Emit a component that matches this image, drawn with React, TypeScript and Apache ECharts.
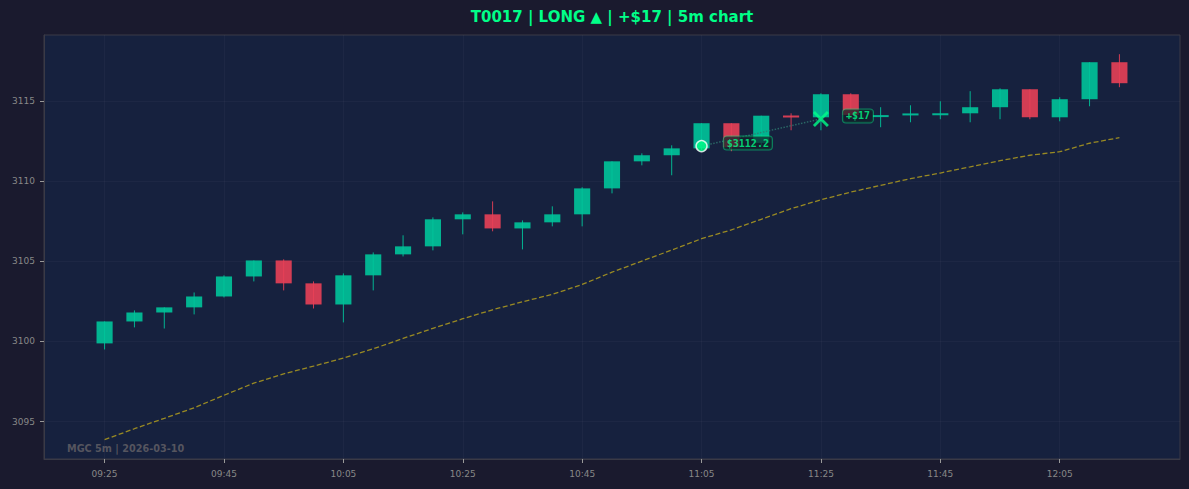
import React, { useEffect, useRef } from "react";
import * as echarts from "echarts";

const times = [
  "09:25", "09:30", "09:35", "09:40", "09:45", "09:50", "09:55", "10:00", "10:05", "10:10",
  "10:15", "10:20", "10:25", "10:30", "10:35", "10:40", "10:45", "10:50", "10:55", "11:00",
  "11:05", "11:10", "11:15", "11:20", "11:25", "11:30", "11:35", "11:40", "11:45", "11:50",
  "11:55", "12:00", "12:05", "12:10", "12:15",
];
const opens = [
  3099.88, 3101.25, 3101.81, 3102.13, 3102.81, 3104.06, 3105.06, 3103.63, 3102.31, 3104.13,
  3105.44, 3105.94, 3107.63, 3107.94, 3107.06, 3107.44, 3107.94, 3109.56, 3111.25, 3111.63,
  3112.06, 3113.63, 3112.4, 3114.1, 3114.0, 3115.44, 3114.05, 3114.17, 3114.13, 3114.25,
  3114.63, 3115.75, 3114.0, 3115.13, 3117.44,
];
const closes = [
  3101.25, 3101.81, 3102.13, 3102.81, 3104.06, 3105.06, 3103.63, 3102.31, 3104.13, 3105.44,
  3105.94, 3107.63, 3107.94, 3107.06, 3107.44, 3107.94, 3109.56, 3111.25, 3111.63, 3112.06,
  3113.63, 3112.13, 3114.1, 3114.0, 3115.44, 3114.15, 3114.1, 3114.19, 3114.25, 3114.63,
  3115.75, 3114.0, 3115.13, 3117.44, 3116.13,
];
const lows = [
  3099.5, 3100.88, 3100.81, 3101.69, 3102.75, 3103.75, 3103.19, 3102.06, 3101.19, 3103.19,
  3105.31, 3105.69, 3106.69, 3106.88, 3105.75, 3107.19, 3107.19, 3109.25, 3111.0, 3110.38,
  3111.9, 3111.88, 3112.25, 3113.19, 3113.19, 3113.95, 3113.38, 3113.69, 3113.88, 3113.69,
  3113.88, 3113.88, 3113.75, 3114.69, 3115.88,
];
const highs = [
  3101.25, 3101.94, 3102.13, 3103.06, 3104.13, 3105.06, 3105.13, 3103.75, 3104.25, 3105.56,
  3106.63, 3107.75, 3108.06, 3108.75, 3107.56, 3108.44, 3109.63, 3111.25, 3111.75, 3112.25,
  3113.63, 3113.63, 3114.1, 3114.25, 3115.5, 3115.5, 3114.63, 3114.75, 3115.0, 3115.63,
  3115.81, 3115.75, 3115.25, 3117.44, 3117.94,
];
const emaValues = [
  3093.87, 3094.55, 3095.2, 3095.86, 3096.64, 3097.4, 3097.98, 3098.46, 3098.96, 3099.54,
  3100.19, 3100.82, 3101.42, 3101.98, 3102.48, 3102.94, 3103.56, 3104.33, 3105.02, 3105.71,
  3106.42, 3106.97, 3107.63, 3108.29, 3108.85, 3109.33, 3109.75, 3110.17, 3110.52, 3110.9,
  3111.29, 3111.63, 3111.85, 3112.38, 3112.73,
];
const xTickIdx = [0, 4, 8, 12, 16, 20, 24, 28, 32];
const yTicks = [3095, 3100, 3105, 3110, 3115];
const entryIdx = 20;
const entryPrice = 3112.2;
const exitIdx = 24;
const exitPrice = 3113.9;
const pnlText = "+$17";
const titleText = "T0017 | LONG ▲ | +$17 | 5m chart";
const watermark = "MGC 5m | 2026-03-10";

const UP = "#00c49a";
const DOWN = "#e84057";
const GREEN = "#00ff88";
const XPATH =
  "path://M0,2 L2,0 L8,6 L14,0 L16,2 L10,8 L16,14 L14,16 L8,10 L2,16 L0,14 L6,8 Z";

export default function App() {
  const ref = useRef<HTMLDivElement>(null);
  useEffect(() => {
    document.body.style.margin = "0";
    document.body.style.background = "#1a1a2e";
    const chart = echarts.init(ref.current!, null, { renderer: "svg" });
    const candles = times.map((_, i) => [i, opens[i], closes[i], lows[i], highs[i]]);
    const labelBox = {
      show: true,
      color: GREEN,
      fontFamily: "DejaVu Sans Mono",
      fontWeight: "bold" as const,
      fontSize: 10,
      backgroundColor: "rgba(18,30,40,0.9)",
      borderColor: "rgba(0,255,136,0.55)",
      borderWidth: 1,
      borderRadius: 3,
      padding: [2, 3, 1, 3],
    };
    chart.setOption({
      animation: false,
      backgroundColor: "#1a1a2e",
      textStyle: { fontFamily: "DejaVu Sans" },
      grid: {
        left: 44,
        right: 9,
        top: 35,
        bottom: 30,
        show: true,
        backgroundColor: "#16213e",
        borderColor: "#3a3a46",
        borderWidth: 1,
      },
      graphic: [
        {
          type: "text",
          x: 612,
          y: 17,
          style: {
            text: titleText,
            fill: GREEN,
            font: "bold 15px 'DejaVu Sans'",
            textAlign: "center",
            textVerticalAlign: "middle",
          },
        },
        {
          type: "text",
          left: 67,
          top: 443,
          z: 10,
          style: {
            text: watermark,
            fill: "#55555f",
            font: "bold 9.7px 'DejaVu Sans'",
          },
        },
      ],
      xAxis: {
        type: "value",
        min: -2.03,
        max: 36.03,
        axisLine: { show: true, onZero: false, lineStyle: { color: "#3a3a46" } },
        axisTick: { show: true, length: 4, customValues: xTickIdx, lineStyle: { color: "#999" } },
        axisLabel: {
          customValues: xTickIdx,
          color: "#888",
          fontSize: 9,
          margin: 10,
          formatter: (v: number) => times[Math.round(v)] ?? "",
        },
        splitLine: { show: true, lineStyle: { color: "rgba(255,255,255,0.03)", width: 1 } },
      },
      yAxis: {
        type: "value",
        min: 3092.66,
        max: 3119.14,
        axisLine: { show: true, onZero: false, lineStyle: { color: "#3a3a46" } },
        axisTick: { show: true, length: 4, customValues: yTicks, lineStyle: { color: "#999" } },
        axisLabel: {
          customValues: yTicks,
          color: "#888",
          fontSize: 9,
          margin: 9,
          formatter: (v: number) => String(Math.round(v)),
        },
        splitLine: { show: true, lineStyle: { color: "rgba(255,255,255,0.03)", width: 1 } },
      },
      series: [
        {
          type: "line",
          data: emaValues.map((v, i) => [i, v]),
          showSymbol: false,
          symbol: "none",
          lineStyle: { color: "#b09c1e", width: 1.3, type: [5, 2.5], opacity: 0.85 },
          z: 2,
        },
        {
          type: "custom",
          data: candles,
          z: 3,
          renderItem: (params: any, api: any) => {
            const x = api.value(0);
            const o = api.value(1);
            const c = api.value(2);
            const l = api.value(3);
            const h = api.value(4);
            const pO = api.coord([x, o]);
            const pC = api.coord([x, c]);
            const pL = api.coord([x, l]);
            const pH = api.coord([x, h]);
            const w = api.size([0.54, 0])[0];
            const color = c >= o ? UP : DOWN;
            let top = Math.min(pO[1], pC[1]);
            let hgt = Math.abs(pO[1] - pC[1]);
            if (hgt < 2) {
              top -= (2 - hgt) / 2;
              hgt = 2;
            }
            return {
              type: "group",
              children: [
                {
                  type: "line",
                  shape: { x1: pH[0], y1: pH[1], x2: pL[0], y2: pL[1] },
                  style: { stroke: color, lineWidth: 1, opacity: 0.9 },
                },
                {
                  type: "rect",
                  shape: { x: pO[0] - w / 2, y: top, width: w, height: hgt },
                  style: { fill: color, opacity: 0.9 },
                },
              ],
            };
          },
        },
        {
          type: "line",
          data: [
            [entryIdx, entryPrice],
            [exitIdx, exitPrice],
          ],
          symbol: "none",
          lineStyle: { color: "#2f7a70", width: 1.5, type: "dotted", opacity: 0.8 },
          z: 4,
        },
        {
          type: "scatter",
          data: [[entryIdx, entryPrice]],
          symbol: "circle",
          symbolSize: 11,
          itemStyle: { color: GREEN, borderColor: "#ffffff", borderWidth: 1.5 },
          z: 6,
          label: {
            ...labelBox,
            position: "right",
            distance: 16,
            offset: [0, -3],
            formatter: () => "$" + entryPrice.toFixed(1),
          },
        },
        {
          type: "scatter",
          data: [[exitIdx, exitPrice]],
          symbol: XPATH,
          symbolSize: 16,
          itemStyle: { color: GREEN },
          z: 6,
          label: {
            ...labelBox,
            position: "right",
            distance: 14,
            offset: [0, -3],
            formatter: () => pnlText,
          },
        },
      ],
    });
    return () => chart.dispose();
  }, []);
  return <div ref={ref} style={{ width: 1189, height: 489, background: "#1a1a2e" }} />;
}
